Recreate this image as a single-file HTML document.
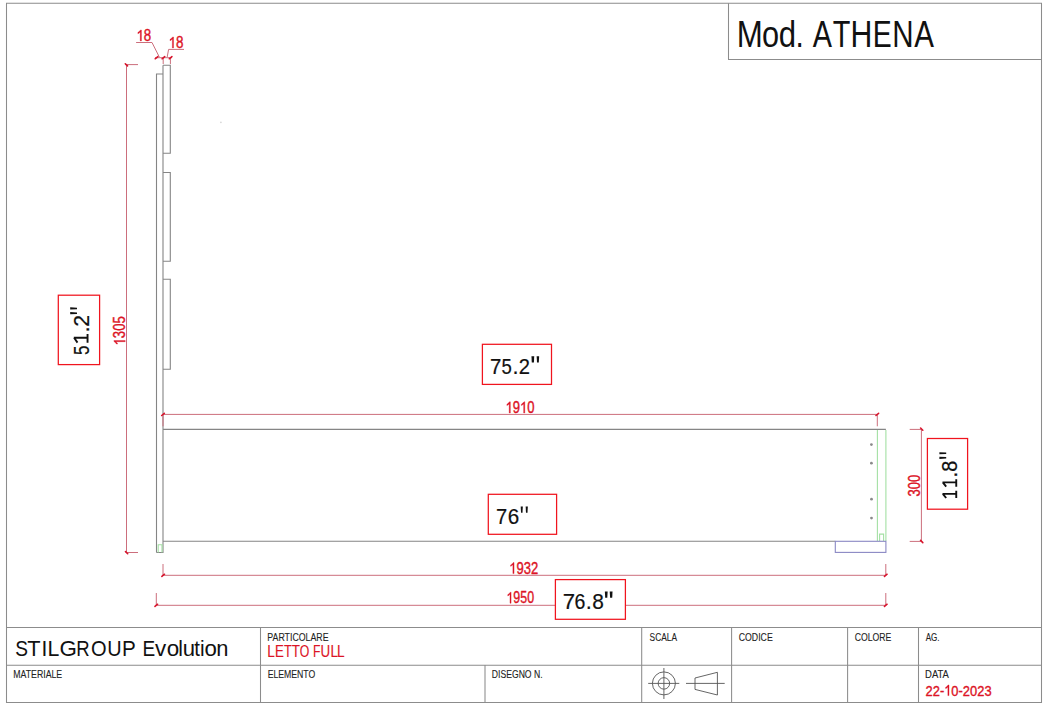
<!DOCTYPE html>
<html><head><meta charset="utf-8"><style>
html,body{margin:0;padding:0;background:#fff;width:1050px;height:707px;overflow:hidden}
svg{display:block;font-family:"Liberation Sans",sans-serif}
</style></head><body>
<svg width="1050" height="707" viewBox="0 0 1050 707">
<g fill="none" stroke="#8c8c8c" stroke-width="1.05">
<path d="M6.5,702.5V3.3H1041.5V702.5Z"/>
<path d="M728.5,3.3V59.4H1041.5"/>
<path d="M6.5,627.5H1041.5M6.5,665.3H1041.5M260.5,627.5V702.5M485,665.3V702.5M641.7,627.5V702.5M731.6,627.5V702.5M847.6,627.5V702.5M918.5,627.5V702.5"/>
</g>
<g fill="none" stroke="#555" stroke-width="0.9">
<circle cx="663.9" cy="683.4" r="11.5"/>
<circle cx="663.9" cy="683.4" r="5.75"/>
<path d="M648.2,683.4H679.3M663.9,668V699M695,678L717.4,672.3V695L695,689.4ZM686,683.4H724.7"/>
</g>
<g fill="none" stroke="#858585" stroke-width="1.1">
<path d="M156.5,552.5V74H163M163,65.3V552.5H156.5"/>
<path d="M163,65.3H170.3V153.3H163M163,172.5H170.3V261.3H163M163,279.3H170.3V369.3H163"/>
<path d="M163,429.4H885.9M163,541.3H835.3"/>
</g>
<circle cx="220.9" cy="122.3" r="0.9" fill="#d8d8d8"/>
<g fill="#8a8a8a"><circle cx="871.4" cy="444.6" r="1.4"/><circle cx="871.4" cy="463.2" r="1.4"/><circle cx="871.5" cy="499.2" r="1.4"/><circle cx="871.5" cy="518.1" r="1.4"/></g>
<g fill="none" stroke="#a4e0a4" stroke-width="1.1">
<path d="M158.2,552.5V544.8H162V552.5"/>
<path d="M877.4,541.1V430M885.9,541.1V430M879.6,541.1V534.1H883.6V541.1"/>
</g>
<rect x="835.3" y="541.3" width="50.6" height="11.1" fill="none" stroke="#8a88c4" stroke-width="1.1"/>
<g fill="none" stroke="#cc6e7c" stroke-width="1">
<path d="M126.5,64.6V552.5M125,64.6H138M126,552.5H138"/>
<path d="M155,57.7H172M163.2,57.7V64M170.4,57.7V64M136.1,42.5H152L159.3,57M184,49.4H168.6L167.2,57"/>
<path d="M163,414.4H877.3M163,414.4V426.3M877.3,414.4V426.3"/>
<path d="M163,575.3H885.8M163,564V575.3M885.8,564V575.3"/>
<path d="M156.3,605.3H885.8M156.3,593V605.3M885.8,593V605.3"/>
<path d="M921.4,429.4V541.4M909.7,429.4H921.4M909.7,541.4H921.4"/>
</g>
<g stroke="#d8142c" stroke-width="1.55" stroke-linecap="round">
<path d="M125.3,63.7L127.5,65.9M125.5,551.6L127.7,553.8M155.2,58.8L157.8,56.6M162.1,58.8L164.7,56.6M169.3,58.8L171.9,56.6M161.7,415.5L164.3,413.3M876.0,415.5L878.6,413.3M161.9,576.4L164.5,574.2M884.5,576.4L887.1,574.2M155.0,606.4L157.6,604.2M884.5,606.4L887.1,604.2M920.6,428.0L922.8,430.2M920.6,540.4L922.8,542.6"/>
</g>
<g fill="#fff" stroke="#f0141e" stroke-width="1.25">
<rect x="58.3" y="295.2" width="41.3" height="69.4"/>
<rect x="482.4" y="344.3" width="69.1" height="40.1"/>
<rect x="488.3" y="494.3" width="68.3" height="40"/>
<rect x="555.4" y="579.6" width="70" height="39.7"/>
<rect x="927.4" y="438.5" width="40.2" height="70.7"/>
</g>

<text transform="translate(267.34,640.70) scale(0.8171,1)" font-size="10.76" fill="#222" stroke="#222" stroke-width="0.10">PARTICOLARE</text>
<text transform="translate(13.24,678.20) scale(0.8151,1)" font-size="10.76" fill="#222" stroke="#222" stroke-width="0.10">MATERIALE</text>
<text transform="translate(267.65,678.10) scale(0.8078,1)" font-size="10.76" fill="#222" stroke="#222" stroke-width="0.10">ELEMENTO</text>
<text transform="translate(491.75,678.10) scale(0.8039,1)" font-size="10.76" fill="#222" stroke="#222" stroke-width="0.10">DISEGNO N.</text>
<text transform="translate(649.58,640.70) scale(0.7784,1)" font-size="10.76" fill="#222" stroke="#222" stroke-width="0.10">SCALA</text>
<text transform="translate(738.76,640.90) scale(0.8123,1)" font-size="10.76" fill="#222" stroke="#222" stroke-width="0.10">CODICE</text>
<text transform="translate(854.77,640.70) scale(0.8069,1)" font-size="10.76" fill="#222" stroke="#222" stroke-width="0.10">COLORE</text>
<text transform="translate(925.70,641.40) scale(0.7495,1)" font-size="10.76" fill="#222" stroke="#222" stroke-width="0.10">AG.</text>
<text transform="translate(925.09,678.30) scale(0.8804,1)" font-size="10.76" fill="#222" stroke="#222" stroke-width="0.10">DATA</text>
<text transform="translate(489.95,374.00) scale(0.9383,1)" font-size="21.80" fill="#111" stroke="#111" stroke-width="0.2">7</text>
<text transform="translate(501.56,374.00) scale(0.8513,1)" font-size="21.80" fill="#111" stroke="#111" stroke-width="0.2">5</text>
<text transform="translate(512.61,374.00) scale(1.0000,1)" font-size="21.80" fill="#111" stroke="#111" stroke-width="0.2">.</text>
<text transform="translate(518.68,374.00) scale(0.9262,1)" font-size="21.80" fill="#111" stroke="#111" stroke-width="0.2">2</text>
<polygon points="531.45,356.30 534.25,356.30 533.90,362.60 531.80,362.60" fill="#111"/>
<polygon points="536.65,356.30 539.15,356.30 538.80,362.60 537.00,362.60" fill="#111"/>
<text transform="translate(495.92,523.70) scale(0.9357,1)" font-size="21.51" fill="#111" stroke="#111" stroke-width="0.2">7</text>
<text transform="translate(507.75,523.70) scale(0.9571,1)" font-size="21.51" fill="#111" stroke="#111" stroke-width="0.2">6</text>
<polygon points="520.70,506.40 522.85,506.40 522.50,512.70 521.05,512.70" fill="#111"/>
<polygon points="525.65,506.40 527.85,506.40 527.50,512.70 526.00,512.70" fill="#111"/>
<text transform="translate(562.76,608.90) scale(1.0259,1)" font-size="21.66" fill="#111" stroke="#111" stroke-width="0.2">7</text>
<text transform="translate(574.61,608.90) scale(0.9006,1)" font-size="21.66" fill="#111" stroke="#111" stroke-width="0.2">6</text>
<text transform="translate(585.72,608.90) scale(1.0000,1)" font-size="21.66" fill="#111" stroke="#111" stroke-width="0.2">.</text>
<text transform="translate(592.19,608.90) scale(0.9643,1)" font-size="21.66" fill="#111" stroke="#111" stroke-width="0.2">8</text>
<polygon points="604.85,591.40 607.65,591.40 607.30,597.70 605.20,597.70" fill="#111"/>
<polygon points="609.75,591.40 612.55,591.40 612.20,597.70 610.10,597.70" fill="#111"/>
<text transform="translate(88.50,354.88) rotate(-90) scale(0.7587,1)" font-size="22.24" fill="#111" stroke="#111" stroke-width="0.2">5</text>
<path transform="translate(88.50,343.20) rotate(-90)" d="M5.39,-14.70V-0.95M0.47,-0.95H9.11M5.39,-14.40L0.56,-11.02" fill="none" stroke="#111" stroke-width="1.9" stroke-linecap="butt"/>
<text transform="translate(88.50,332.53) rotate(-90) scale(1.0000,1)" font-size="22.24" fill="#111" stroke="#111" stroke-width="0.2">.</text>
<text transform="translate(88.50,326.87) rotate(-90) scale(0.9574,1)" font-size="22.24" fill="#111" stroke="#111" stroke-width="0.2">2</text>
<polygon points="70.20,307.35 70.20,309.55 77.00,309.20 77.00,307.70" fill="#111"/>
<polygon points="70.20,312.05 70.20,314.25 77.00,313.90 77.00,312.40" fill="#111"/>
<path transform="translate(957.20,498.50) rotate(-90)" d="M4.64,-14.70V-0.95M0.40,-0.95H7.84M4.64,-14.40L0.48,-11.02" fill="none" stroke="#111" stroke-width="1.9" stroke-linecap="butt"/>
<path transform="translate(957.20,487.10) rotate(-90)" d="M4.70,-14.70V-0.95M0.41,-0.95H7.94M4.70,-14.40L0.49,-11.02" fill="none" stroke="#111" stroke-width="1.9" stroke-linecap="butt"/>
<text transform="translate(957.20,477.73) rotate(-90) scale(1.0000,1)" font-size="22.24" fill="#111" stroke="#111" stroke-width="0.2">.</text>
<text transform="translate(957.20,471.86) rotate(-90) scale(0.8912,1)" font-size="22.24" fill="#111" stroke="#111" stroke-width="0.2">8</text>
<polygon points="939.40,452.15 939.40,454.35 946.20,454.00 946.20,452.50" fill="#111"/>
<polygon points="939.40,456.75 939.40,458.95 946.20,458.60 946.20,457.10" fill="#111"/>
<g transform="translate(136.46,40.90) scale(0.8412,1)" fill="#dc1426" stroke="#dc1426" stroke-width="0.38" stroke-linejoin="round"><text font-size="15.84" x="8.81" y="0">8</text><path d="M5.90,0.00L4.51,0.00L4.51,-8.87Q4.01,-8.39 3.19,-7.91Q2.37,-7.43 1.72,-7.19L1.72,-8.54Q2.89,-9.09 3.76,-9.87Q4.63,-10.65 5.00,-10.90L5.90,-10.90Z"/></g>
<g transform="translate(168.54,47.90) scale(0.8478,1)" fill="#dc1426" stroke="#dc1426" stroke-width="0.38" stroke-linejoin="round"><text font-size="15.84" x="8.81" y="0">8</text><path d="M5.90,0.00L4.51,0.00L4.51,-8.87Q4.01,-8.39 3.19,-7.91Q2.37,-7.43 1.72,-7.19L1.72,-8.54Q2.89,-9.09 3.76,-9.87Q4.63,-10.65 5.00,-10.90L5.90,-10.90Z"/></g>
<g transform="translate(505.49,413.00) scale(0.7985,1)" fill="#dc1426" stroke="#dc1426" stroke-width="0.38" stroke-linejoin="round"><text font-size="16.28" x="9.05 27.16" y="0">90</text><path d="M6.07,0.00L4.63,0.00L4.63,-9.12Q4.12,-8.62 3.27,-8.13Q2.43,-7.64 1.76,-7.39L1.76,-8.78Q2.96,-9.34 3.86,-10.14Q4.76,-10.95 5.13,-11.20L6.07,-11.20ZM24.17,0.00L22.74,0.00L22.74,-9.12Q22.23,-8.62 21.38,-8.13Q20.54,-7.64 19.87,-7.39L19.87,-8.78Q21.07,-9.34 21.97,-10.14Q22.87,-10.95 23.24,-11.20L24.17,-11.20Z"/></g>
<g transform="translate(509.19,573.60) scale(0.8144,1)" fill="#dc1426" stroke="#dc1426" stroke-width="0.38" stroke-linejoin="round"><text font-size="15.99" x="8.89 17.78 26.68" y="0">932</text><path d="M5.96,0.00L4.55,0.00L4.55,-8.95Q4.04,-8.47 3.22,-7.99Q2.39,-7.50 1.73,-7.26L1.73,-8.62Q2.91,-9.17 3.79,-9.96Q4.68,-10.75 5.04,-11.00L5.96,-11.00Z"/></g>
<g transform="translate(506.45,603.20) scale(0.7769,1)" fill="#dc1426" stroke="#dc1426" stroke-width="0.38" stroke-linejoin="round"><text font-size="15.99" x="8.89 17.78 26.68" y="0">950</text><path d="M5.96,0.00L4.55,0.00L4.55,-8.95Q4.04,-8.47 3.22,-7.99Q2.39,-7.50 1.73,-7.26L1.73,-8.62Q2.91,-9.17 3.79,-9.96Q4.68,-10.75 5.04,-11.00L5.96,-11.00Z"/></g>
<g transform="translate(125.20,345.42) rotate(-90) scale(0.7984,1)" fill="#dc1426" stroke="#dc1426" stroke-width="0.38" stroke-linejoin="round"><text font-size="16.42" x="9.13 18.27 27.40" y="0">305</text><path d="M6.12,0.00L4.68,0.00L4.68,-9.20Q4.15,-8.70 3.30,-8.20Q2.45,-7.71 1.78,-7.46L1.78,-8.85Q2.99,-9.42 3.90,-10.23Q4.80,-11.04 5.18,-11.30L6.12,-11.30Z"/></g>
<g transform="translate(920.00,496.40) rotate(-90) scale(0.7920,1)" fill="#dc1426" stroke="#dc1426" stroke-width="0.38" stroke-linejoin="round"><text font-size="16.42" x="0.00 9.13 18.27" y="0">300</text></g>
<g transform="translate(925.55,695.60) scale(0.8376,1)" fill="#dc1426" stroke="#dc1426" stroke-width="0.38" stroke-linejoin="round"><text font-size="15.41" x="0.00 8.57 17.14 30.84 39.41 44.54 53.11 61.67 70.24" y="0">22-0-2023</text><path d="M28.01,0.00L26.65,0.00L26.65,-8.63Q26.17,-8.16 25.37,-7.70Q24.57,-7.23 23.94,-7.00L23.94,-8.31Q25.07,-8.84 25.92,-9.60Q26.77,-10.36 27.13,-10.60L28.01,-10.60Z"/></g>
<text transform="translate(15.13,656.30) scale(0.8592,1)" font-size="22.24" fill="#111">S</text>
<text transform="translate(27.21,656.30) scale(0.9782,1)" font-size="22.24" fill="#111">T</text>
<text transform="translate(41.39,656.30) scale(0.9416,1)" font-size="22.24" fill="#111">I</text>
<text transform="translate(47.55,656.30) scale(0.9586,1)" font-size="22.24" fill="#111">L</text>
<text transform="translate(59.58,656.30) scale(1.0056,1)" font-size="22.24" fill="#111">G</text>
<text transform="translate(76.18,656.30) scale(0.8331,1)" font-size="22.24" fill="#111">R</text>
<text transform="translate(91.05,656.30) scale(0.9025,1)" font-size="22.24" fill="#111">O</text>
<text transform="translate(107.16,656.30) scale(0.8948,1)" font-size="22.24" fill="#111">U</text>
<text transform="translate(122.00,656.30) scale(0.9294,1)" font-size="22.24" fill="#111">P</text>
<text transform="translate(142.44,656.30) scale(0.8545,1)" font-size="22.24" fill="#111">E</text>
<text transform="translate(154.92,656.30) scale(1.0030,1)" font-size="22.24" fill="#111">v</text>
<text transform="translate(166.76,656.30) scale(1.0095,1)" font-size="22.24" fill="#111">o</text>
<text transform="translate(178.17,656.30) scale(0.9416,1)" font-size="22.24" fill="#111">l</text>
<text transform="translate(182.86,656.30) scale(0.9950,1)" font-size="22.24" fill="#111">u</text>
<text transform="translate(194.19,656.30) scale(0.9156,1)" font-size="22.24" fill="#111">t</text>
<text transform="translate(199.93,656.30) scale(0.9416,1)" font-size="22.24" fill="#111">i</text>
<text transform="translate(204.57,656.30) scale(1.0000,1)" font-size="22.24" fill="#111">o</text>
<text transform="translate(216.25,656.30) scale(0.9844,1)" font-size="22.24" fill="#111">n</text>
<text transform="translate(267.28,657.20) scale(0.8669,1)" font-size="15.70" fill="#dc1426" stroke="#dc1426" stroke-width="0.15">L</text>
<text transform="translate(274.91,657.20) scale(0.8462,1)" font-size="15.70" fill="#dc1426" stroke="#dc1426" stroke-width="0.15">E</text>
<text transform="translate(284.11,657.20) scale(0.8112,1)" font-size="15.70" fill="#dc1426" stroke="#dc1426" stroke-width="0.15">T</text>
<text transform="translate(291.70,657.20) scale(0.8562,1)" font-size="15.70" fill="#dc1426" stroke="#dc1426" stroke-width="0.15">T</text>
<text transform="translate(299.82,657.20) scale(0.7839,1)" font-size="15.70" fill="#dc1426" stroke="#dc1426" stroke-width="0.15">O</text>
<text transform="translate(312.99,657.20) scale(0.7820,1)" font-size="15.70" fill="#dc1426" stroke="#dc1426" stroke-width="0.15">F</text>
<text transform="translate(320.57,657.20) scale(0.8526,1)" font-size="15.70" fill="#dc1426" stroke="#dc1426" stroke-width="0.15">U</text>
<text transform="translate(330.48,657.20) scale(0.8669,1)" font-size="15.70" fill="#dc1426" stroke="#dc1426" stroke-width="0.15">L</text>
<text transform="translate(336.88,657.20) scale(0.8669,1)" font-size="15.70" fill="#dc1426" stroke="#dc1426" stroke-width="0.15">L</text>
<text transform="translate(736.64,46.60) scale(0.8331,1)" font-size="37.50" fill="#111">M</text>
<text transform="translate(761.91,46.60) scale(0.8189,1)" font-size="37.50" fill="#111">o</text>
<text transform="translate(778.69,46.60) scale(0.8302,1)" font-size="37.50" fill="#111">d</text>
<text transform="translate(795.61,46.60) scale(0.7955,1)" font-size="37.50" fill="#111">.</text>
<text transform="translate(812.84,46.60) scale(0.7681,1)" font-size="37.50" fill="#111">A</text>
<text transform="translate(832.75,46.60) scale(0.7687,1)" font-size="37.50" fill="#111">T</text>
<text transform="translate(850.62,46.60) scale(0.8068,1)" font-size="37.50" fill="#111">H</text>
<text transform="translate(872.67,46.60) scale(0.7577,1)" font-size="37.50" fill="#111">E</text>
<text transform="translate(892.18,46.60) scale(0.7877,1)" font-size="37.50" fill="#111">N</text>
<text transform="translate(914.24,46.60) scale(0.7882,1)" font-size="37.50" fill="#111">A</text>
</svg>
</body></html>
